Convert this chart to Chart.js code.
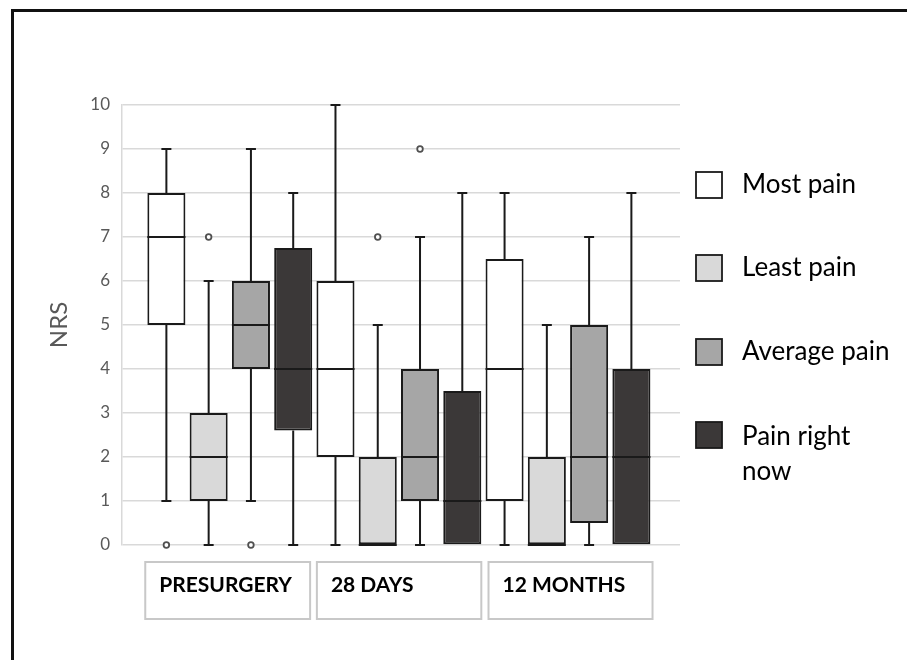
<!DOCTYPE html>
<html>
<head>
<meta charset="utf-8">
<script src="https://cdn.jsdelivr.net/npm/chart.js@4.4.1/dist/chart.umd.min.js"></script>
<style>
  html, body { margin: 0; padding: 0; background: #fff; }
  #wrap { position: relative; width: 907px; height: 660px; overflow: hidden; }
  #frame { position: absolute; left: 11px; top: 9px; width: 1000px; height: 1000px;
           border-left: 3px solid #111; border-top: 3px solid #111; box-sizing: border-box; pointer-events: none; }
  canvas { position: absolute; left: 0; top: 0; }
</style>
</head>
<body>
<div id="wrap">
  <canvas id="c" width="907" height="660"></canvas>
  <div id="frame"></div>
</div>
<script>
// ---- Data ----
const timePoints = ['PRESURGERY', '28 DAYS', '12 MONTHS'];
const seriesNames = ['Most pain', 'Least pain', 'Average pain', 'Pain right now'];
const yTicks = [0, 1, 2, 3, 4, 5, 6, 7, 8, 9, 10];

// each entry: [min whisker, Q1, median, Q3, max whisker] per time point
const mostPainBox    = [[1, 5, 7, 8, 9],       [0, 2, 4, 6, 10],   [0, 1, 4, 6.5, 8]];
const leastPainBox   = [[0, 1, 2, 3, 6],       [0, 0, 0, 2, 5],    [0, 0, 0, 2, 5]];
const averagePainBox = [[1, 4, 5, 6, 9],       [0, 1, 2, 4, 7],    [0, 0.5, 2, 5, 7]];
const painNowBox     = [[0, 2.6, 4, 6.75, 8],  [0, 0, 1, 3.5, 8],  [0, 0, 2, 4, 8]];

const mostPainOutliers    = [[0], [], []];
const leastPainOutliers   = [[7], [7], []];
const averagePainOutliers = [[0], [9], []];
const painNowOutliers     = [[], [], []];

// ---- Styling ----
const fills = ['#ffffff', '#d9d9d9', '#a6a6a6', '#3b3838'];
const allBoxes = [mostPainBox, leastPainBox, averagePainBox, painNowBox];
const allOutliers = [mostPainOutliers, leastPainOutliers, averagePainOutliers, painNowOutliers];

function slot(g, s) { return g * 4 + s + 1; }

const datasets = [];
allBoxes.forEach((boxes, s) => {
  datasets.push({
    type: 'bar',
    label: seriesNames[s],
    data: boxes.map((b, g) => ({ x: slot(g, s), y: [b[1], b[3]], stats: b })),
    backgroundColor: fills[s],
    borderColor: '#1a1a1a',
    borderWidth: 2,
    borderSkipped: false,
    grouped: false,
    clip: false,
    categoryPercentage: 1,
    barPercentage: 0.9
  });
});
allOutliers.forEach((outs, s) => {
  const pts = [];
  outs.forEach((list, g) => list.forEach(v => pts.push({ x: slot(g, s), y: v })));
  datasets.push({
    type: 'scatter',
    label: seriesNames[s] + ' outliers',
    data: pts,
    clip: false,
    pointStyle: 'circle',
    pointRadius: 2.8,
    pointBorderWidth: 1.8,
    pointBackgroundColor: '#ffffff',
    pointBorderColor: '#505050'
  });
});

const whiskerPlugin = {
  id: 'whiskers',
  afterDatasetsDraw(chart) {
    const ctx = chart.ctx;
    const y = chart.scales.y;
    ctx.save();
    ctx.strokeStyle = '#1a1a1a';
    ctx.lineWidth = 2;
    chart.data.datasets.forEach((ds, i) => {
      if (ds.type !== 'bar') return;
      const meta = chart.getDatasetMeta(i);
      meta.data.forEach((bar, j) => {
        const st = ds.data[j].stats;
        const cx = bar.x, half = bar.width / 2, cap = 5;
        const pMin = y.getPixelForValue(st[0]);
        const pQ1 = y.getPixelForValue(st[1]);
        const pMed = y.getPixelForValue(st[2]);
        const pQ3 = y.getPixelForValue(st[3]);
        const pMax = y.getPixelForValue(st[4]);
        ctx.beginPath();
        if (st[4] > st[3]) {
          ctx.moveTo(cx, pQ3); ctx.lineTo(cx, pMax);
          ctx.moveTo(cx - cap, pMax); ctx.lineTo(cx + cap, pMax);
        }
        if (st[0] < st[1]) {
          ctx.moveTo(cx, pQ1); ctx.lineTo(cx, pMin);
          ctx.moveTo(cx - cap, pMin); ctx.lineTo(cx + cap, pMin);
        }
        ctx.moveTo(cx - half, pMed); ctx.lineTo(cx + half, pMed);
        ctx.stroke();
      });
    });
    ctx.restore();
  }
};

const decorPlugin = {
  id: 'decor',
  afterDraw(chart) {
    const ctx = chart.ctx;
    const x = chart.scales.x;
    ctx.save();
    // time point cells
    ctx.strokeStyle = '#c8c8c8';
    ctx.lineWidth = 2;
    ctx.fillStyle = '#000';
    ctx.font = 'bold 21px Lato';
    ctx.textBaseline = 'middle';
    ctx.textAlign = 'left';
    timePoints.forEach((t, g) => {
      const l = x.getPixelForValue(g * 4.06 + 0.5);
      const r = x.getPixelForValue(g * 4.05 + 4.4);
      ctx.strokeRect(l, 562, r - l, 57);
      ctx.fillText(t, l + 14, 585);
    });
    // legend
    const ys = [185, 268, 352, 435];
    ctx.font = '26px Lato';
    ctx.lineWidth = 1.8;
    ctx.strokeStyle = '#1a1a1a';
    seriesNames.forEach((n, s) => {
      const yc = ys[s];
      ctx.fillStyle = fills[s];
      ctx.fillRect(696, yc - 13, 26, 26);
      ctx.strokeRect(696, yc - 13, 26, 26);
      ctx.fillStyle = '#000';
      if (n === 'Pain right now') {
        ctx.fillText('Pain right', 742, yc + 2);
        ctx.fillText('now', 742, yc + 37);
      } else {
        ctx.fillText(n, 742, yc);
      }
    });
    ctx.restore();
  }
};

new Chart(document.getElementById('c'), {
  type: 'bar',
  data: { datasets },
  plugins: [whiskerPlugin, decorPlugin],
  options: {
    responsive: false,
    animation: false,
    layout: { padding: { left: 0, top: 105, right: 227, bottom: 115 } },
    plugins: { legend: { display: false }, tooltip: { enabled: false } },
    scales: {
      x: { type: 'linear', min: -0.05, max: 13.15, offset: false, display: false },
      y: {
        min: 0, max: 10,
        afterFit(s) { s.width = 122; },
        afterBuildTicks(s) { s.ticks = yTicks.map(v => ({ value: v })); },
        grid: { color: '#d9d9d9', lineWidth: 1.5, drawTicks: false },
        border: { color: '#d9d9d9', width: 1.5 },
        ticks: { padding: 12, color: '#595959', font: { family: 'Lato', size: 17 } },
        title: { display: true, text: 'NRS', color: '#595959', padding: { top: 45, bottom: 0 },
                 font: { family: 'Lato', size: 24 } }
      }
    }
  }
});
</script>
</body>
</html>
